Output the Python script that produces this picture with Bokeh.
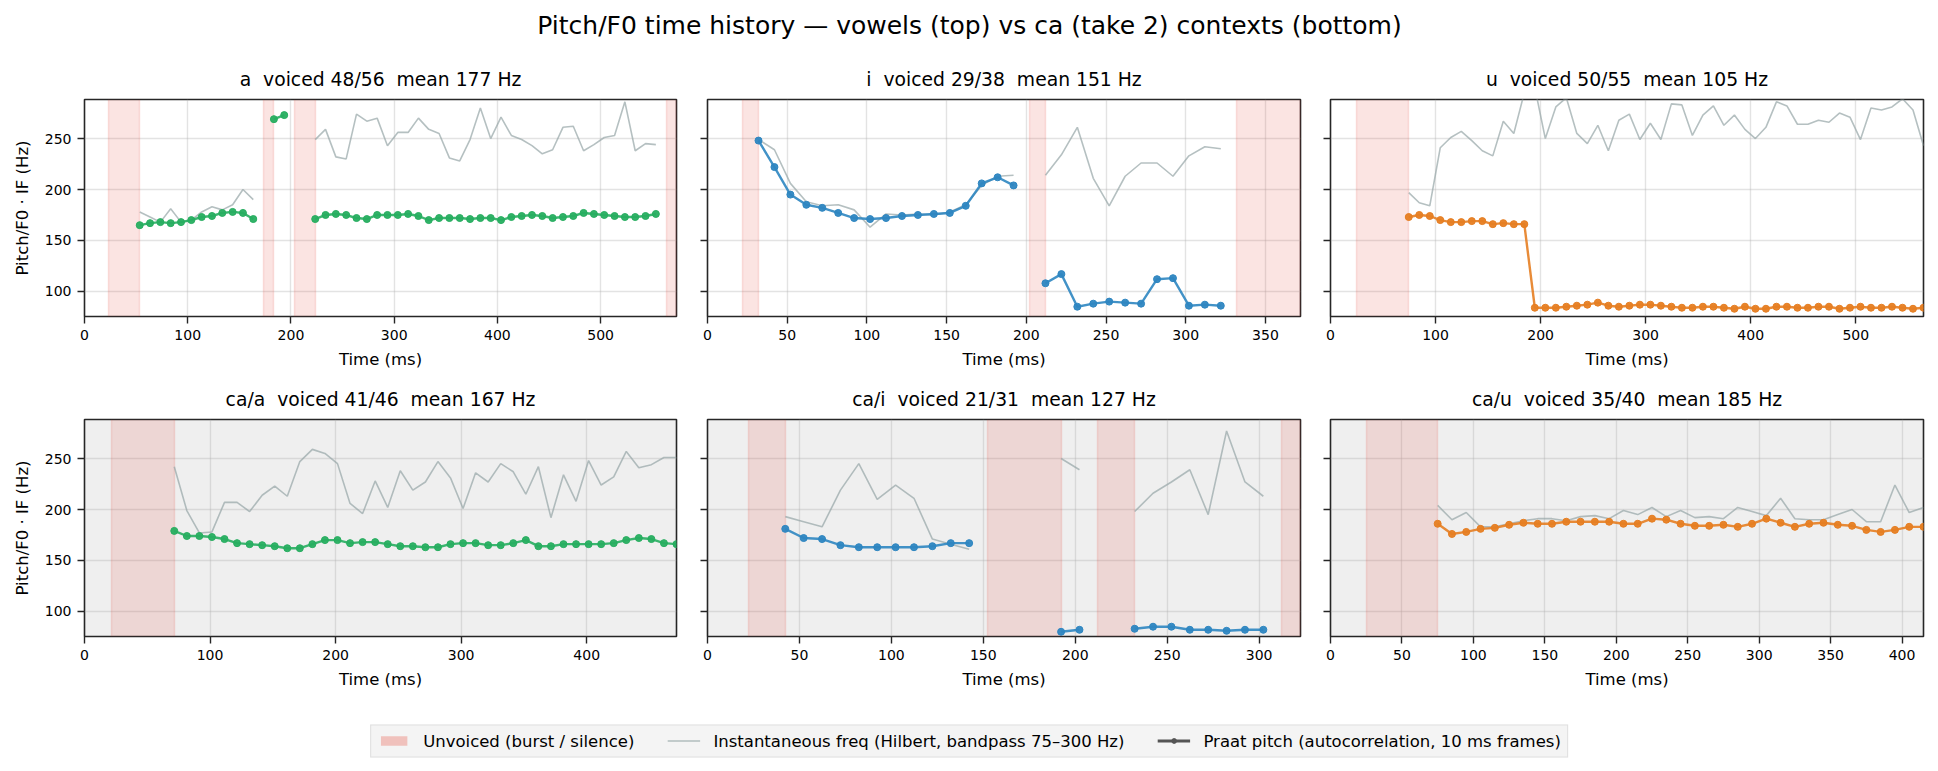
import math
from bokeh.plotting import figure
from bokeh.models import Range1d, FixedTicker, Label, Legend, LegendItem
from bokeh.layouts import column, row
from bokeh.embed import file_html
from bokeh.resources import INLINE

nan = float("nan")
FONT = "DejaVu Sans"
FRAME_MS = 10.0  # Praat frame step (10 ms frames)

SUPTITLE = "Pitch/F0 time history \u2014 vowels (top) vs ca (take 2) contexts (bottom)"
Y_LABEL = "Pitch/F0 \u00b7 IF (Hz)"
X_LABEL = "Time (ms)"
Y_TICKS = [100, 150, 200, 250]
Y_MIN, Y_MAX = 75.4, 288.3

# ---------------- panel "a" ----------------
A_TITLE = "a  voiced 48/56  mean 177 Hz"
A_XMAX = 573.5
A_XTICKS = [0, 100, 200, 300, 400, 500]
A_SEG_START = [53.5, 183.5, 223.5]
A_F0 = [
    [165, 167, 168, 167, 168, 170, 173, 174, 177, 178, 177, 171],
    [269, 273],
    [171, 175, 176, 175, 172, 171, 175, 175, 175, 176, 174, 170, 172, 172, 172, 171, 172,
     172, 170, 173, 174, 175, 174, 172, 173, 174, 177, 176, 175, 174, 173, 173, 174, 176],
]
A_IF = [
    [178, 173, 168, 181, 168, 170, 178, 183, 180, 185, 200, 190],
    [nan, nan],
    [249, 259, 232, 230, 274, 267, 270, 243, 256, 256, 270, 259, 255, 231, 228, 249, 280,
     250, 271, 253, 249, 243, 235, 239, 261, 262, 238, 244, 251, 253, 286, 238, 245, 244],
]
A_UNVOICED = [(23.5, 53.5), (173.5, 183.5), (203.5, 223.5), (563.5, 573.5)]

# ---------------- panel "i" ----------------
I_TITLE = "i  voiced 29/38  mean 151 Hz"
I_XMAX = 372.0
I_XTICKS = [0, 50, 100, 150, 200, 250, 300, 350]
I_SEG_START = [32.0, 212.0]
I_F0 = [
    [248, 222, 195, 185, 182, 177, 172, 171, 172, 174, 175, 176, 177, 184, 206, 212, 204],
    [108, 117, 85, 88, 90, 89, 88, 112, 113, 86, 87, 86],
]
I_IF = [
    [249, 239, 206, 188, 184, 185, 180, 163, 176, 175, 176, 175, 178, 185, 204, 213, 214],
    [214, 234, 261, 211, 184, 213, 226, 226, 213, 233, 242, 240],
]
I_UNVOICED = [(22.0, 32.0), (202.0, 212.0), (332.0, 372.0)]

# ---------------- panel "u" ----------------
U_TITLE = "u  voiced 50/55  mean 105 Hz"
U_XMAX = 564.5
U_XTICKS = [0, 100, 200, 300, 400, 500]
U_SEG_START = [74.5]
U_F0 = [
    [173, 175, 174, 170, 168, 168, 169, 169, 166, 167, 166, 166,
     84, 84, 84, 85, 86, 87, 89, 86, 85, 86, 87, 87, 86, 85, 84, 84, 85, 85, 84, 83,
     85, 83, 83, 85, 85, 84, 84, 85, 85, 83, 84, 85, 84, 84, 85, 84, 83, 84],
]
U_IF = [
    [197, 187, 184, 241, 251, 257, 248, 238, 233, 267, 255, 295,
     300, 250, 281, 290, 255, 245, 263, 238, 268, 274, 249, 265, 249, 284, 283, 253,
     273, 282, 263, 273, 259, 250, 261, 286, 282, 264, 264, 268, 266, 275, 271, 249,
     280, 278, 281, 289, 278, 243],
]
U_UNVOICED = [(24.5, 74.5)]

# ---------------- panel "ca/a" ----------------
CAA_TITLE = "ca/a  voiced 41/46  mean 167 Hz"
CAA_XMAX = 471.5
CAA_XTICKS = [0, 100, 200, 300, 400]
CAA_SEG_START = [71.5]
CAA_F0 = [
    [179, 174, 174, 173, 171, 167, 166, 165, 164, 162, 162, 166, 170, 170, 167, 168, 168,
     166, 164, 164, 163, 163, 166, 167, 167, 165, 165, 167, 170, 164, 164, 166, 166, 166,
     166, 167, 170, 172, 171, 167, 166],
]
CAA_IF = [
    [242, 199, 177, 178, 207, 207, 198, 214, 223, 213, 247, 259, 255, 245, 206, 196, 228,
     202, 238, 219, 227, 247, 231, 201, 236, 227, 245, 237, 215, 242, 192, 234, 208, 248,
     224, 232, 257, 241, 244, 251, 251],
]
CAA_UNVOICED = [(21.5, 71.5)]

# ---------------- panel "ca/i" ----------------
CAI_TITLE = "ca/i  voiced 21/31  mean 127 Hz"
CAI_XMAX = 322.5
CAI_XTICKS = [0, 50, 100, 150, 200, 250, 300]
CAI_SEG_START = [42.3, 192.3, 232.3]
CAI_F0 = [
    [181, 172, 171, 165, 163, 163, 163, 163, 164, 167, 167],
    [80, 82],
    [83, 85, 85, 82, 82, 81, 82, 82],
]
CAI_IF = [
    [193, 188, 183, 219, 245, 210, 224, 211, 171, 166, 161],
    [250, 239],
    [198, 216, 227, 239, 195, 277, 227, 213],
]
CAI_UNVOICED = [(22.3, 42.3), (152.3, 192.3), (212.3, 232.3), (312.3, 322.5)]

# ---------------- panel "ca/u" ----------------
CAU_TITLE = "ca/u  voiced 35/40  mean 185 Hz"
CAU_XMAX = 415.0
CAU_XTICKS = [0, 50, 100, 150, 200, 250, 300, 350, 400]
CAU_SEG_START = [75.0]
CAU_F0 = [
    [186, 176, 178, 181, 182, 185, 187, 186, 186, 188, 188, 188, 188, 186, 186, 191, 190,
     186, 184, 184, 185, 183, 186, 191, 187, 183, 186, 187, 185, 184, 180, 178, 180, 183, 183],
]
CAU_IF = [
    [204, 190, 197, 183, 183, 186, 189, 191, 191, 189, 193, 194, 191, 199, 195, 202, 193,
     199, 192, 193, 191, 202, 198, 194, 211, 191, 190, 190, 195, 200, 188, 188, 224, 197, 202],
]
CAU_UNVOICED = [(25.0, 75.0)]

GREEN, BLUE, ORANGE = "#27ae60", "#2e86c1", "#e67e22"
IF_COLOR = "#95a5a6"
SPAN_COLOR = "#e74c3c"
INK = "#262626"

LEGEND_LABELS = ["Unvoiced (burst / silence)",
                 "Instantaneous freq (Hilbert, bandpass 75\u2013300 Hz)",
                 "Praat pitch (autocorrelation, 10 ms frames)"]


def keep_spaces(s):
    # SVG collapses runs of spaces; keep the double spacing visible
    return s.replace("  ", " \u00a0")


def series(starts, segs):
    xs, ys = [], []
    for s, seg in zip(starts, segs):
        if xs:
            xs.append(nan)
            ys.append(nan)
        for i, v in enumerate(seg):
            xs.append(s + FRAME_MS * i)
            ys.append(v)
    return xs, ys


def panel(title, xmax, xticks, starts, f0, iff, spans, color, bg,
          width, height, left, right, top, bottom, show_ylab):
    p = figure(width=width, height=height,
               min_border_left=left, min_border_right=right,
               min_border_top=top, min_border_bottom=bottom,
               x_range=Range1d(0, xmax), y_range=Range1d(Y_MIN, Y_MAX),
               output_backend="svg", toolbar_location=None, title=keep_spaces(title),
               background_fill_color=bg, border_fill_color="white")
    p.title.text_font = FONT
    p.title.text_font_size = "18.75px"
    p.title.text_font_style = "normal"
    p.title.text_color = "black"
    p.title.align = "center"
    p.title.standoff = 20

    p.outline_line_color = INK
    p.outline_line_width = 1.6
    p.outline_line_alpha = 1.0

    p.xaxis.ticker = FixedTicker(ticks=xticks)
    p.yaxis.ticker = FixedTicker(ticks=Y_TICKS)
    for ax in (p.xaxis[0], p.yaxis[0]):
        ax.axis_line_color = None
        ax.major_tick_line_color = INK
        ax.major_tick_line_width = 1.4
        ax.major_tick_out = 7
        ax.major_tick_in = 0
        ax.minor_tick_line_color = None
        ax.major_label_text_font = FONT
        ax.major_label_text_font_size = "14px"
        ax.major_label_text_color = "black"
        ax.major_label_standoff = 6
        ax.axis_label_text_font = FONT
        ax.axis_label_text_font_size = "16.5px"
        ax.axis_label_text_font_style = "normal"
        ax.axis_label_text_color = "black"
    p.xaxis.axis_label = X_LABEL
    p.xaxis.axis_label_standoff = 7
    if show_ylab:
        p.yaxis.axis_label = Y_LABEL
        p.yaxis.axis_label_standoff = 10
    else:
        p.yaxis.major_label_overrides = {t: "" for t in Y_TICKS}
        p.yaxis.major_label_standoff = 0

    p.grid.grid_line_color = "#b0b0b0"
    p.grid.grid_line_alpha = 0.35
    p.grid.grid_line_width = 1.4

    p.vstrip(x0=[s[0] for s in spans], x1=[s[1] for s in spans],
             fill_color=SPAN_COLOR, fill_alpha=0.15,
             line_color=SPAN_COLOR, line_alpha=0.15, line_width=1.5)

    ix, iy = series(starts, iff)
    p.line(ix, iy, line_color=IF_COLOR, line_alpha=0.7, line_width=1.6)

    fx, fy = series(starts, f0)
    p.line(fx, fy, line_color=color, line_alpha=0.9, line_width=2.4)
    p.scatter(fx, fy, size=7, fill_color=color, line_color=color, fill_alpha=0.95)
    return p


# layout geometry (pixels)
W_L, W_M, W_R = 691, 624, 623
TOP_H, BOT_H = 320, 325
HEAD_H, LEG_H = 55, 71

pa = panel(A_TITLE, A_XMAX, A_XTICKS, A_SEG_START, A_F0, A_IF, A_UNVOICED, GREEN, "white",
           W_L, TOP_H, 84, 15, 44, 59, True)
pi = panel(I_TITLE, I_XMAX, I_XTICKS, I_SEG_START, I_F0, I_IF, I_UNVOICED, BLUE, "white",
           W_M, TOP_H, 16, 15, 44, 59, False)
pu = panel(U_TITLE, U_XMAX, U_XTICKS, U_SEG_START, U_F0, U_IF, U_UNVOICED, ORANGE, "white",
           W_R, TOP_H, 15, 15, 44, 59, False)

BG2 = "#efefef"
pca = panel(CAA_TITLE, CAA_XMAX, CAA_XTICKS, CAA_SEG_START, CAA_F0, CAA_IF, CAA_UNVOICED, GREEN, BG2,
            W_L, BOT_H, 84, 15, 44, 64, True)
pci = panel(CAI_TITLE, CAI_XMAX, CAI_XTICKS, CAI_SEG_START, CAI_F0, CAI_IF, CAI_UNVOICED, BLUE, BG2,
            W_M, BOT_H, 16, 15, 44, 64, False)
pcu = panel(CAU_TITLE, CAU_XMAX, CAU_XTICKS, CAU_SEG_START, CAU_F0, CAU_IF, CAU_UNVOICED, ORANGE, BG2,
            W_R, BOT_H, 15, 15, 44, 64, False)

# header with the overall title
head = figure(width=1938, height=HEAD_H, x_range=Range1d(0, 1938), y_range=Range1d(0, HEAD_H),
              min_border=0, x_axis_type=None, y_axis_type=None,
              output_backend="svg", toolbar_location=None)
head.outline_line_color = None
head.grid.visible = False
head.add_layout(Label(x=969, y=HEAD_H - 25, text=SUPTITLE, text_align="center",
                      text_baseline="middle", text_font=FONT, text_font_size="25px",
                      text_color="black"))

# legend strip (the dummy glyphs sit outside the visible range)
leg = figure(width=1938, height=LEG_H, x_range=Range1d(0, 1), y_range=Range1d(0, 1),
             min_border_left=0, min_border_right=0, min_border_top=10, min_border_bottom=0,
             x_axis_type=None, y_axis_type=None, output_backend="svg", toolbar_location=None)
leg.outline_line_color = None
leg.grid.visible = False
r_span = leg.quad(left=[5], right=[6], top=[6], bottom=[5], fill_color=SPAN_COLOR,
                  fill_alpha=0.3, line_color=None)
r_if = leg.line(x=[5, 6], y=[5, 5], line_color=IF_COLOR, line_alpha=0.7, line_width=1.6)
r_pl = leg.line(x=[5, 6], y=[5, 5], line_color="#555555", line_width=3)
r_pm = leg.scatter(x=[5], y=[5], size=9, fill_color="#555555", line_color="#555555")
legend = Legend(items=[LegendItem(label=LEGEND_LABELS[0], renderers=[r_span]),
                       LegendItem(label=LEGEND_LABELS[1], renderers=[r_if]),
                       LegendItem(label=LEGEND_LABELS[2], renderers=[r_pl, r_pm])],
                orientation="horizontal", location="center",
                label_text_font=FONT, label_text_font_size="16.5px", label_text_color="black",
                glyph_width=33, glyph_height=12, label_height=19, label_standoff=13,
                spacing=33, padding=6, margin=0,
                border_line_color="#cccccc", border_line_width=1.2,
                background_fill_color="#f4f4f4", background_fill_alpha=1.0)
leg.add_layout(legend)

layout = column(head,
                row(pa, pi, pu, spacing=0),
                row(pca, pci, pcu, spacing=0),
                leg, spacing=0)

open("out.html", "w").write(file_html(layout, INLINE))
